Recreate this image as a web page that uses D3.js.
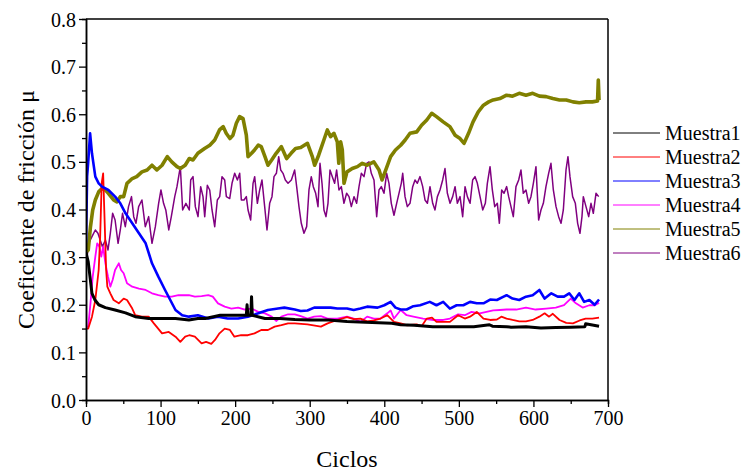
<!DOCTYPE html>
<html><head><meta charset="utf-8">
<script src="https://cdn.jsdelivr.net/npm/d3@7/dist/d3.min.js"></script>
<style>
body{margin:0;background:#fff}
text{font-family:"Liberation Serif","Times New Roman",serif;fill:#000}
</style>
</head><body>
<svg id="chart" width="747" height="474"></svg>
<script>
// ---- data (cycle, friction coefficient) ----
const seriesNames = ["Muestra1","Muestra2","Muestra3","Muestra4","Muestra5","Muestra6"];
const seriesColors = ["#000000","#ff0000","#0000ff","#ff00ff","#808000","#800080"];
const seriesWidths = [3,1.8,2.6,1.8,3.6,1.5];
const xTicks = [0,100,200,300,400,500,600,700];
const yTicks = [0.0,0.1,0.2,0.3,0.4,0.5,0.6,0.7,0.8];
const xTitle = "Ciclos";
const yTitle = "Coeficiente de fricción μ";

const m1 = [[0,0.31],[3,0.29],[8,0.224],[12,0.21],[17,0.2],[26,0.194],[39,0.189],[53,0.183],[66,0.175],[84,0.171],[102,0.171],[120,0.171],[138,0.168],
 [150,0.171],[160,0.171],[180,0.178],[200,0.178],[215,0.178],[216,0.2],[217,0.178],[221,0.178],[222,0.217],[223,0.178],[240,0.171],[260,0.171],[280,0.169],
 [300,0.168],[325,0.168],[350,0.165],[375,0.163],[410,0.161],[422,0.158],[440,0.157],[465,0.154],[490,0.154],[520,0.154],[541,0.158],[545,0.155],[564,0.154],
 [570,0.153],[590,0.154],[610,0.151],[630,0.152],[650,0.153],[669,0.154],[670,0.16],[688,0.155]];

const m2 = [[0,0.15],[3,0.15],[8,0.175],[12.5,0.21],[17,0.273],[19,0.343],[21,0.455],[23,0.476],[24.5,0.4],[27,0.273],[28.6,0.238],[32.6,0.224],[37,0.21],[44,0.203],[50.5,0.213],[55,0.21],[62,0.192],[66,0.178],[75,0.175],[84,0.175],[91,0.161],[102,0.14],[111,0.143],[120,0.133],[126.5,0.122],[133,0.133],[138.5,0.136],
 [146,0.133],[155,0.119],[161,0.122],[168,0.118],[173,0.126],[179,0.14],[186,0.15],[193,0.147],[199,0.133],[208,0.136],[217,0.136],[226,0.14],[235,0.147],[244,0.147],[253,0.154],[262,0.157],[271,0.161],[280,0.161],
 [297,0.159],[315,0.154],[324,0.161],[337,0.168],[350,0.174],[359,0.17],[368,0.171],[377,0.165],[386,0.167],[395,0.171],[404,0.178],[413,0.164],[422,0.161],
 [430,0.157],[443.5,0.159],[450,0.155],[457,0.171],[464,0.173],[470,0.164],[479,0.164],[488,0.164],[499,0.178],[508,0.171],[515,0.175],[524,0.185],[533,0.171],[542,0.168],[551,0.169],[557,0.175],[564,0.171],
 [572,0.168],[581,0.165],[590,0.165],[599,0.168],[608,0.175],[615,0.182],[621,0.175],[626,0.181],[635,0.168],[644,0.162],[653,0.161],[662,0.167],[670,0.171],[679,0.171],[688,0.173]];

const m3 = [[0,0.33],[1.5,0.47],[3,0.5],[5.5,0.56],[8,0.518],[12.5,0.469],[17,0.455],[21.4,0.448],[30,0.441],[39,0.427],[46,0.413],[53,0.392],[62,0.371],[71,0.35],[80,0.329],[88.5,0.287],[97,0.259],[106,0.231],[113,0.21],[120,0.189],[129,0.178],[138,0.175],
 [150,0.178],[164,0.171],[177,0.175],[190,0.171],[204,0.171],[217,0.175],[231,0.182],[244,0.189],[257.5,0.192],[266,0.194],[280,0.19],[288,0.187],[297,0.188],[306,0.194],[319,0.194],[328,0.194],[337,0.192],[350,0.192],[359,0.189],[368,0.192],[377,0.196],[391,0.194],[400,0.199],[408.5,0.206],[415,0.194],[422,0.19],
 [430,0.19],[439,0.197],[448,0.199],[461,0.206],[470,0.199],[479,0.206],[488,0.192],[497,0.199],[506,0.199],[515,0.206],[524,0.203],[533,0.203],[542,0.211],[551,0.21],[560,0.217],[564,0.22],
 [572,0.213],[581,0.21],[590,0.217],[599,0.22],[608,0.231],[615,0.213],[624,0.224],[632.5,0.217],[641,0.217],[648,0.224],[655,0.21],[661.5,0.224],[668,0.206],[675,0.21],[682,0.2],[688,0.211]];

const m4 = [[0,0.154],[3,0.154],[6,0.203],[9,0.259],[12.5,0.301],[15,0.329],[18,0.322],[20.5,0.301],[23,0.322],[26,0.287],[29.5,0.259],[32.6,0.238],[35.7,0.252],[39,0.273],[44,0.287],[47,0.273],[50.5,0.266],[55,0.245],[62,0.238],[71,0.234],[80,0.231],[88.5,0.224],[97,0.22],[106,0.217],[115,0.217],[124,0.22],[138,0.22],
 [146,0.217],[155,0.218],[164,0.22],[170,0.217],[177,0.203],[186,0.196],[195,0.192],[204,0.194],[213,0.19],[222,0.192],[231,0.185],[240,0.182],[249,0.175],[255,0.166],[262,0.175],[271,0.18],[280,0.18],
 [288,0.176],[297,0.171],[306,0.175],[315,0.176],[324,0.171],[337,0.171],[350,0.175],[359,0.171],[368,0.164],[377,0.175],[386,0.171],[395,0.171],[404,0.182],[408.5,0.188],[413,0.171],[422,0.189],
 [430,0.178],[439,0.175],[452,0.171],[466,0.168],[479,0.168],[488,0.171],[499,0.18],[508,0.178],[517,0.185],[528,0.182],[537,0.185],[546,0.188],[555,0.189],[564,0.19],
 [577,0.19],[590,0.194],[603,0.19],[617,0.192],[630,0.194],[641,0.199],[650,0.213],[657,0.203],[666,0.194],[675,0.199],[682,0.199],[688,0.204]];

const m5 = [[0,0.31],[3,0.315],[6,0.364],[9,0.399],[12.5,0.42],[17,0.437],[21.4,0.444],[26,0.441],[30,0.434],[37,0.42],[41.5,0.416],[46,0.427],[50.5,0.427],[55,0.455],[62,0.465],[68,0.469],[75,0.479],[82,0.483],[88.5,0.493],[95,0.483],[102,0.493],[109,0.511],[115,0.5],[122,0.49],[126.5,0.486],[133,0.493],[138.5,0.507],
 [143.5,0.504],[150,0.518],[159,0.528],[166,0.535],[172.6,0.546],[179,0.567],[184,0.574],[188,0.56],[193,0.549],[197,0.556],[201.6,0.581],[206,0.595],[210.6,0.591],[215,0.556],[217.3,0.511],[222,0.518],[226,0.525],[231,0.535],[235,0.532],[240,0.511],[244,0.493],[249,0.504],[255,0.518],[262,0.532],[269,0.507],[275,0.518],[281,0.528],
 [288,0.53],[297,0.539],[303.5,0.511],[306.6,0.493],[312,0.514],[319,0.546],[323.6,0.567],[328,0.553],[332.5,0.56],[337,0.542],[339,0.497],[341.5,0.542],[343.7,0.525],[346,0.455],[350,0.479],[357,0.486],[364,0.49],[370.5,0.497],[377,0.493],[386,0.5],[393,0.483],[397,0.462],[402,0.483],[408.5,0.511],[415,0.525],[422,0.535],
 [428,0.546],[434.5,0.56],[443.5,0.563],[450,0.577],[457,0.588],[463.6,0.602],[470,0.595],[479,0.584],[488,0.574],[495,0.556],[501.6,0.549],[507,0.539],[513,0.56],[519,0.584],[526,0.605],[533,0.619],[540,0.626],[546,0.63],[555,0.633],[564,0.64],
 [572,0.638],[581,0.644],[590,0.64],[599,0.644],[608,0.638],[617,0.637],[626,0.633],[635,0.63],[644,0.63],[653,0.626],[661.5,0.624],[670.5,0.626],[679,0.626],[686,0.628],[687,0.672],[688,0.63]];

const m6 = [[0,0.28],[3.5,0.329],[8,0.343],[12.5,0.357],[16,0.35],[19,0.336],[22,0.322],[26,0.336],[29.5,0.315],[32.6,0.35],[35.7,0.392],[39,0.378],[43,0.329],[46,0.357],[49,0.392],[52.7,0.364],[57,0.406],[61,0.427],[64,0.385],[67,0.371],[70.6,0.406],[75,0.42],[79.5,0.364],[84,0.385],[88.5,0.329],[93,0.364],[97.4,0.413],[100.5,0.441],[104,0.413],[107,0.399],[111,0.357],[114.4,0.385],[119,0.427],[122,0.448],[126.5,0.49],[129.6,0.399],[134,0.413],[138.5,0.399],
 [140.4,0.462],[143.5,0.469],[146.6,0.406],[150.2,0.385],[153.8,0.448],[156.9,0.427],[159.2,0.385],[162.7,0.451],[165.9,0.441],[169,0.399],[172.6,0.364],[176.1,0.42],[179.3,0.427],[182.4,0.469],[186,0.462],[188.2,0.427],[192.7,0.423],[195.8,0.455],[199.4,0.476],[203,0.462],[206.1,0.476],[208.3,0.42],[211.9,0.42],[215,0.427],[217.3,0.399],[220.8,0.378],[224,0.455],[226.2,0.469],[229.8,0.413],[232.9,0.441],[236,0.462],[239.6,0.406],[242.7,0.357],[246.3,0.413],[249.4,0.427],[252.1,0.469],[255.3,0.476],[258.4,0.511],[261.1,0.483],[264.2,0.476],[267.3,0.462],[270.9,0.455],[275.4,0.462],[279.8,0.483],
 [282.5,0.448],[285.6,0.406],[288.7,0.371],[292.3,0.35],[295.9,0.364],[299,0.441],[302.1,0.469],[304.8,0.448],[308,0.434],[311.1,0.406],[313.8,0.497],[316.5,0.455],[319.1,0.399],[321.8,0.385],[324.5,0.413],[327.2,0.483],[330.3,0.469],[333.4,0.455],[336.1,0.483],[339.2,0.441],[342.4,0.448],[345.9,0.413],[349.5,0.434],[352.7,0.427],[355.8,0.406],[359.4,0.427],[362.9,0.413],[366.1,0.448],[369.2,0.476],[372.8,0.469],[376.3,0.497],[379.5,0.5],[382.6,0.476],[386.2,0.462],[389.8,0.385],[392.9,0.441],[396,0.448],[399.6,0.434],[403.2,0.476],[406.3,0.455],[409.4,0.413],[413,0.388],[416.6,0.413],[419.7,0.434],[422.8,0.455],
 [424.7,0.476],[427.8,0.427],[430.9,0.406],[434.5,0.413],[438.1,0.448],[441.2,0.462],[444.3,0.455],[447.9,0.469],[451.5,0.448],[454.6,0.42],[457.8,0.413],[461.3,0.448],[464.9,0.413],[468,0.399],[471.2,0.427],[474.7,0.441],[478.3,0.462],[481.4,0.486],[484.6,0.434],[488.2,0.413],[491.7,0.427],[494.9,0.448],[498,0.413],[501.6,0.427],[505.1,0.385],[508.3,0.448],[511.4,0.427],[515,0.413],[518.5,0.462],[521.7,0.469],[524.8,0.455],[528.4,0.427],[532,0.399],[535.5,0.413],[538.2,0.455],[541.8,0.49],[544.9,0.441],[548.1,0.406],[551.6,0.413],[554.3,0.371],[557.4,0.441],[560.6,0.434],[564.1,0.448],
 [566.8,0.427],[569.9,0.406],[573,0.385],[576.6,0.448],[580.2,0.462],[583.3,0.483],[586.4,0.434],[590,0.441],[593.6,0.413],[596.7,0.427],[599.9,0.455],[603.4,0.49],[607,0.378],[610.1,0.399],[613.3,0.413],[616.8,0.448],[620.4,0.476],[623.5,0.497],[626.7,0.441],[630.3,0.406],[633.8,0.385],[637,0.371],[640.1,0.399],[643.7,0.483],[646.3,0.511],[649,0.469],[652.6,0.427],[656.2,0.413],[659.3,0.371],[662.4,0.35],[665.1,0.385],[666.9,0.427],[670.5,0.406],[674.1,0.385],[677.2,0.413],[680.3,0.392],[683.9,0.434],[687.5,0.427]];

const seriesData = [m1,m2,m3,m4,m5,m6];

// ---- layout ----
const svg = d3.select("#chart");
const L = 86, R = 608, T = 19, B = 400;
const x = d3.scaleLinear().domain([0,700]).range([L,R]);
const y = d3.scaleLinear().domain([0,0.8]).range([B,T]);

svg.append("defs").append("clipPath").attr("id","clip")
  .append("rect").attr("x",L).attr("y",T).attr("width",R-L).attr("height",B-T);

// lines
const line = d3.line().x(d=>x(d[0])).y(d=>y(d[1]));
const drawOrder = [5,4,3,1,2,0];
const g = svg.append("g").attr("clip-path","url(#clip)");
drawOrder.forEach(i=>{
  g.append("path").datum(seriesData[i])
    .attr("fill","none").attr("stroke",seriesColors[i])
    .attr("stroke-width",seriesWidths[i]).attr("stroke-linejoin","round")
    .attr("d",line);
});

// frame (top/right)
svg.append("line").attr("x1",L).attr("x2",R).attr("y1",T).attr("y2",T).attr("stroke","#000").attr("stroke-width",1.5);
svg.append("line").attr("x1",R).attr("x2",R).attr("y1",T).attr("y2",B).attr("stroke","#000").attr("stroke-width",1.5);

// axes
const xMinor = d3.range(50,700,100);
const yMinor = d3.range(0.05,0.8,0.1);
const xAxis = svg.append("g").attr("transform",`translate(0,${B})`)
  .call(d3.axisBottom(x).tickValues(xTicks).tickFormat(d3.format("d")).tickSizeOuter(0).tickSizeInner(7).tickPadding(4));
const xAxisMinor = svg.append("g").attr("transform",`translate(0,${B})`)
  .call(d3.axisBottom(x).tickValues(xMinor).tickFormat("").tickSizeOuter(0).tickSize(4));
const yAxis = svg.append("g").attr("transform",`translate(${L},0)`)
  .call(d3.axisLeft(y).tickValues(yTicks).tickFormat(d3.format(".1f")).tickSizeOuter(0).tickSizeInner(7).tickPadding(3));
const yAxisMinor = svg.append("g").attr("transform",`translate(${L},0)`)
  .call(d3.axisLeft(y).tickValues(yMinor).tickFormat("").tickSizeOuter(0).tickSize(4));
[xAxis,xAxisMinor,yAxis,yAxisMinor].forEach(a=>{
  a.select(".domain").attr("stroke","#000").attr("stroke-width",1.5);
  a.selectAll(".tick line").attr("stroke","#000").attr("stroke-width",1.3);
  a.selectAll("text").style("font-family",'"Liberation Serif","Times New Roman",serif').style("font-size","20px").attr("fill","#000");
});
yAxis.selectAll("text").attr("dy","0.35em");

// titles
svg.append("text").attr("x",(L+R)/2).attr("y",467).attr("text-anchor","middle")
  .style("font-size","24px").text(xTitle);
svg.append("text").attr("transform",`translate(34,${(T+B)/2}) rotate(-90)`).attr("text-anchor","middle")
  .style("font-size","24px").text(yTitle);

// legend
const leg = svg.append("g");
seriesNames.forEach((n,i)=>{
  const yy = 133 + i*24;
  leg.append("line").attr("x1",613).attr("x2",660).attr("y1",yy).attr("y2",yy)
    .attr("stroke",seriesColors[i]).attr("stroke-width",1);
  leg.append("text").attr("x",665).attr("y",yy).attr("dy","0.35em")
    .style("font-size","20px").text(n);
});
</script>
</body></html>
